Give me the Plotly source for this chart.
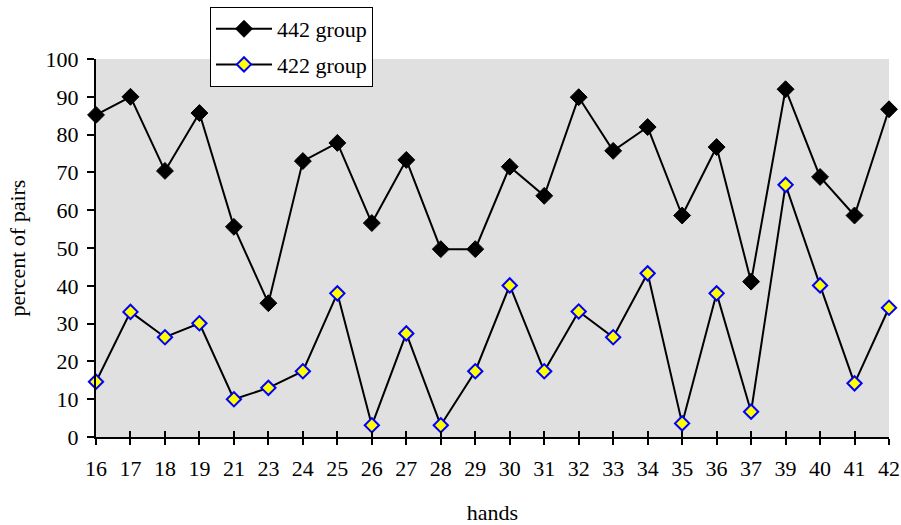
import plotly.graph_objects as go

hands = ["16", "17", "18", "19", "21", "23", "24", "25", "26", "27", "28", "29",
         "30", "31", "32", "33", "34", "35", "36", "37", "39", "40", "41", "42"]
group_442 = [85.2, 90.0, 70.4, 85.7, 55.6, 35.4, 73.0, 77.8, 56.6, 73.3, 49.7, 49.7,
             71.5, 63.8, 89.9, 75.7, 82.0, 58.6, 76.7, 41.1, 92.0, 68.8, 58.6, 86.7]
group_422 = [14.6, 33.1, 26.4, 30.1, 10.0, 13.0, 17.4, 38.0, 3.1, 27.4, 3.1, 17.4,
             40.1, 17.4, 33.2, 26.4, 43.3, 3.6, 38.0, 6.7, 66.7, 40.1, 14.2, 34.2]
y_ticks = [0, 10, 20, 30, 40, 50, 60, 70, 80, 90, 100]

FONT = "Liberation Serif, Times New Roman, serif"
FS = 22

fig = go.Figure()
fig.add_trace(go.Scatter(
    x=hands, y=group_442, name="442 group", mode="lines+markers",
    legendgroup="a",
    line=dict(color="black", width=2),
    marker=dict(symbol="diamond", size=13, color="black", line=dict(color="black", width=1)),
    cliponaxis=False,
))
fig.add_trace(go.Scatter(
    x=hands, y=group_422, name="422 group", mode="lines+markers",
    legendgroup="b",
    line=dict(color="black", width=2),
    marker=dict(symbol="diamond", size=11, color="#ffff00", line=dict(color="#0000ff", width=2)),
    cliponaxis=False,
))
# invisible trace to carry the overlay axis for crossing ticks
fig.add_trace(go.Scatter(
    x=hands, y=[None] * len(hands), xaxis="x2", mode="lines",
    showlegend=False, hoverinfo="skip",
))

fig.update_layout(
    width=901, height=525,
    margin=dict(l=96, r=12, t=59, b=88, autoexpand=False),
    paper_bgcolor="white",
    plot_bgcolor="#e0e0e0",
    font=dict(family=FONT, size=FS, color="black"),
    showlegend=True,
    legend=dict(
        x=(210 - 96) / 793, y=1 + (59 - 7) / 378, xanchor="left", yanchor="top",
        bgcolor="white", bordercolor="black", borderwidth=1,
        font=dict(family=FONT, size=FS, color="black"),
        itemwidth=56, tracegroupgap=4,
    ),
    xaxis=dict(
        type="category", categoryorder="array", categoryarray=hands,
        range=[0, len(hands) - 1],
        showgrid=False, zeroline=False,
        showline=True, linecolor="black", linewidth=2,
        ticks="outside", ticklen=6, tickwidth=2, tickcolor="black",
        tickfont=dict(family=FONT, size=FS, color="black"),
        ticklabelstandoff=5,
        title=dict(text="hands", font=dict(family=FONT, size=FS, color="black"), standoff=29),
    ),
    xaxis2=dict(
        type="category", categoryorder="array", categoryarray=hands,
        range=[0, len(hands) - 1],
        overlaying="x", side="bottom", anchor="y",
        showgrid=False, zeroline=False, showline=False,
        ticks="inside", ticklen=6, tickwidth=2, tickcolor="black",
        showticklabels=False,
    ),
    yaxis=dict(
        range=[0, 100], tickvals=y_ticks,
        showgrid=False, zeroline=False,
        showline=True, linecolor="black", linewidth=2,
        ticks="outside", ticklen=7, tickwidth=2, tickcolor="black",
        tickfont=dict(family=FONT, size=FS, color="black"),
        ticklabelstandoff=4,
        title=dict(text="percent of pairs", font=dict(family=FONT, size=FS, color="black"), standoff=14),
    ),
)

# remove the page's default body margin so the figure fills the window exactly
fig.write_html(
    "out.html",
    config={"displayModeBar": False},
    post_script="document.body.style.margin='0';document.body.style.overflow='hidden';",
)
